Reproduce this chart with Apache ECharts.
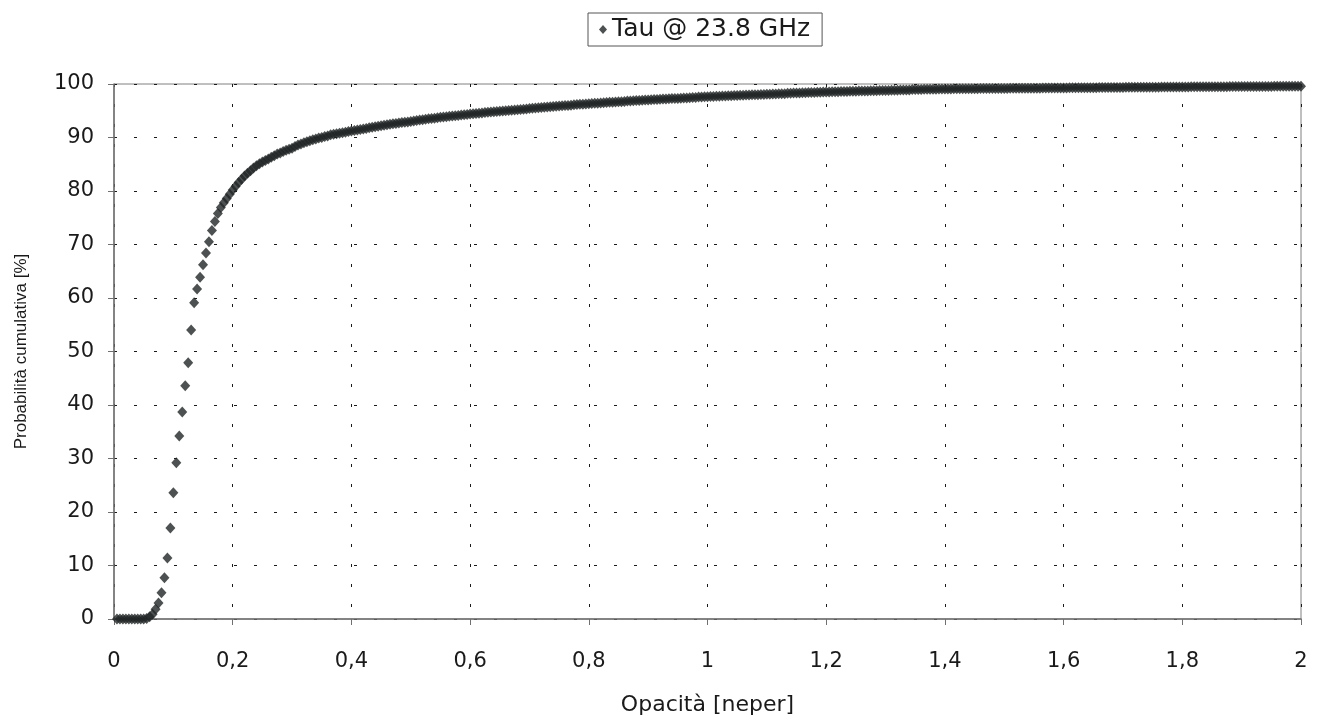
<!DOCTYPE html>
<html>
<head>
<meta charset="utf-8">
<title>Tau @ 23.8 GHz</title>
<script src="https://cdn.jsdelivr.net/npm/echarts@6/dist/echarts.min.js"></script>
<style>
  html, body { margin: 0; padding: 0; background: #ffffff; }
  #chart { width: 1324px; height: 722px; }
</style>
</head>
<body>
<div id="chart"></div>
<script>
// Cumulative distribution of the 23.8 GHz opacity, one value per 0.005 neper bin
const seriesName = 'Tau @ 23.8 GHz';
const opacityStep = 0.005; // bin width [neper]; bins run from 0.005 to 2.000

// Cumulative probability [%] for each bin, in bin order
const probLow = [ // 0.005 .. 0.300
  0, 0, 0, 0, 0, 0, 0, 0, 0, 0,
  0.1, 0.4, 0.9, 1.8, 3.0, 4.9, 7.7, 11.4, 17.0, 23.6,
  29.2, 34.2, 38.7, 43.6, 47.9, 54.0, 59.1, 61.7, 63.9, 66.2,
  68.4, 70.5, 72.6, 74.3, 75.8, 76.9, 77.8, 78.6, 79.4, 80.2,
  80.9, 81.6, 82.2, 82.8, 83.3, 83.8, 84.3, 84.7, 85.1, 85.4,
  85.7, 86.0, 86.3, 86.6, 86.9, 87.1, 87.4, 87.6, 87.8, 88.0
];
const probMid = [ // 0.305 .. 1.000
  88.3, 88.6, 88.8, 89.0, 89.2, 89.4, 89.6, 89.7, 89.9, 90.0,
  90.2, 90.3, 90.5, 90.6, 90.7, 90.8, 90.9, 91.0, 91.1, 91.2,
  91.3, 91.4, 91.5, 91.6, 91.7, 91.8, 91.9, 92.0, 92.1, 92.2,
  92.3, 92.4, 92.5, 92.55, 92.6, 92.7, 92.8, 92.85, 92.9, 93.0,
  93.1, 93.2, 93.25, 93.3, 93.4, 93.5, 93.55, 93.6, 93.7, 93.8,
  93.85, 93.9, 93.95, 94.0, 94.05, 94.1, 94.2, 94.25, 94.3, 94.4,
  94.45, 94.5, 94.55, 94.6, 94.65, 94.7, 94.75, 94.8, 94.85, 94.9,
  94.95, 95.0, 95.05, 95.1, 95.15, 95.2, 95.25, 95.3, 95.35, 95.4,
  95.45, 95.5, 95.55, 95.6, 95.65, 95.7, 95.75, 95.8, 95.85, 95.9,
  95.95, 96.0, 96.0, 96.05, 96.1, 96.15, 96.2, 96.2, 96.25, 96.3,
  96.35, 96.4, 96.4, 96.45, 96.5, 96.55, 96.6, 96.6, 96.65, 96.7,
  96.7, 96.75, 96.8, 96.8, 96.85, 96.9, 96.9, 96.95, 97.0, 97.0,
  97.05, 97.1, 97.1, 97.15, 97.2, 97.2, 97.25, 97.3, 97.3, 97.3,
  97.35, 97.4, 97.4, 97.45, 97.5, 97.5, 97.55, 97.55, 97.6, 97.6
];
const probHigh = [ // 1.005 .. 2.000
  97.65, 97.65, 97.7, 97.7, 97.75, 97.75, 97.8, 97.8, 97.85, 97.85,
  97.9, 97.9, 97.95, 97.95, 98.0, 98.0, 98.0, 98.05, 98.05, 98.1,
  98.1, 98.15, 98.15, 98.2, 98.2, 98.2, 98.25, 98.25, 98.3, 98.3,
  98.3, 98.35, 98.35, 98.4, 98.4, 98.4, 98.45, 98.45, 98.5, 98.5,
  98.5, 98.55, 98.55, 98.55, 98.6, 98.6, 98.6, 98.65, 98.65, 98.65,
  98.7, 98.7, 98.7, 98.7, 98.75, 98.75, 98.75, 98.8, 98.8, 98.8,
  98.8, 98.85, 98.85, 98.85, 98.9, 98.9, 98.9, 98.9, 98.95, 98.95,
  98.95, 98.95, 99.0, 99.0, 99.0, 99.0, 99.0, 99.05, 99.05, 99.05,
  99.05, 99.05, 99.1, 99.1, 99.1, 99.1, 99.1, 99.1, 99.1, 99.1,
  99.1, 99.15, 99.15, 99.15, 99.15, 99.15, 99.15, 99.15, 99.15, 99.15,
  99.15, 99.2, 99.2, 99.2, 99.2, 99.2, 99.2, 99.2, 99.2, 99.2,
  99.2, 99.2, 99.25, 99.25, 99.25, 99.25, 99.25, 99.25, 99.25, 99.25,
  99.25, 99.3, 99.3, 99.3, 99.3, 99.3, 99.3, 99.3, 99.3, 99.3,
  99.3, 99.35, 99.35, 99.35, 99.35, 99.35, 99.35, 99.35, 99.35, 99.35,
  99.4, 99.4, 99.4, 99.4, 99.4, 99.4, 99.4, 99.4, 99.4, 99.4,
  99.4, 99.4, 99.45, 99.45, 99.45, 99.45, 99.45, 99.45, 99.45, 99.45,
  99.45, 99.45, 99.5, 99.5, 99.5, 99.5, 99.5, 99.5, 99.5, 99.5,
  99.5, 99.5, 99.5, 99.5, 99.5, 99.55, 99.55, 99.55, 99.55, 99.55,
  99.55, 99.55, 99.55, 99.55, 99.55, 99.55, 99.55, 99.55, 99.55, 99.55,
  99.6, 99.6, 99.6, 99.6, 99.6, 99.6, 99.6, 99.6, 99.6, 99.6
];

// Axis ranges and titles
const xMin = 0, xMax = 2, xInterval = 0.2;
const yMin = 0, yMax = 100, yInterval = 10;
const xTitle = 'Opacità [neper]';
const yTitle = 'Probabilità cumulativa [%]';

const probability = probLow.concat(probMid, probHigh);
const points = probability.map((p, i) => [
  Math.round((i + 1) * opacityStep * 1000) / 1000, p
]);

const wideFont = '"DejaVu Sans", Verdana, sans-serif';
const narrowFont = '"Liberation Sans", Arial, Helvetica, sans-serif';
const gridDash = { color: '#1a1a1a', width: 1, type: [3, 17] };

const chart = echarts.init(document.getElementById('chart'), null, { renderer: 'canvas' });
chart.setOption({
  animation: false,
  backgroundColor: '#ffffff',
  textStyle: { fontFamily: wideFont },
  legend: {
    data: [seriesName],
    left: 588,
    top: 13,
    padding: [4, 12, 4, 11],
    borderColor: '#555555',
    borderWidth: 1,
    itemWidth: 8,
    itemHeight: 9,
    icon: 'diamond',
    textStyle: { fontFamily: wideFont, fontSize: 25, color: '#1a1a1a' }
  },
  grid: {
    left: 114, right: 23, top: 84, bottom: 103,
    show: true,
    borderColor: '#808080',
    borderWidth: 1,
    containLabel: false
  },
  xAxis: {
    type: 'value',
    min: xMin, max: xMax, interval: xInterval,
    name: xTitle,
    nameLocation: 'middle',
    nameGap: 75,
    nameTextStyle: { fontFamily: wideFont, fontSize: 22, color: '#1a1a1a' },
    axisLine: { show: true, onZero: false, lineStyle: { color: '#707070', width: 1.5 } },
    axisTick: { show: true, inside: false, length: 6, lineStyle: { color: '#707070' } },
    axisLabel: {
      margin: 32,
      fontFamily: wideFont,
      fontSize: 21,
      color: '#1a1a1a',
      formatter: v => String(Math.round(v * 10) / 10).replace('.', ',')
    },
    splitLine: { show: true, lineStyle: gridDash }
  },
  yAxis: {
    type: 'value',
    min: yMin, max: yMax, interval: yInterval,
    name: yTitle,
    nameLocation: 'middle',
    nameGap: 84,
    nameTextStyle: { fontFamily: narrowFont, fontSize: 17, color: '#1a1a1a' },
    axisLine: { show: true, lineStyle: { color: '#707070', width: 1.5 } },
    axisTick: { show: true, inside: false, length: 6, lineStyle: { color: '#707070' } },
    axisLabel: { margin: 20, fontFamily: wideFont, fontSize: 21, color: '#1a1a1a' },
    splitLine: { show: true, lineStyle: gridDash }
  },
  series: [{
    name: seriesName,
    type: 'scatter',
    data: points,
    symbol: 'diamond',
    symbolSize: [10, 11],
    itemStyle: { color: '#222626' },
    clip: false,
    z: 3
  }]
});
</script>
</body>
</html>
